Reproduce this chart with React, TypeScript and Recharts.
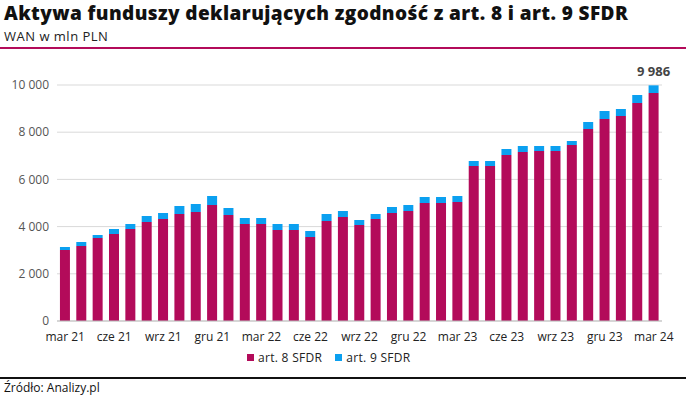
import { BarChart, Bar, XAxis, YAxis, CartesianGrid, LabelList } from "recharts";

const MONTHS = [
  "mar 21", "kwi 21", "maj 21", "cze 21", "lip 21", "sie 21", "wrz 21", "paź 21", "lis 21", "gru 21",
  "sty 22", "lut 22", "mar 22", "kwi 22", "maj 22", "cze 22", "lip 22", "sie 22", "wrz 22", "paź 22", "lis 22", "gru 22",
  "sty 23", "lut 23", "mar 23", "kwi 23", "maj 23", "cze 23", "lip 23", "sie 23", "wrz 23", "paź 23", "lis 23", "gru 23",
  "sty 24", "lut 24", "mar 24",
];

const ART8 = [
  3008, 3178, 3517, 3686, 3898, 4195, 4322, 4534, 4619, 4915,
  4492, 4110, 4110, 3856, 3856, 3559, 4237, 4407, 4068, 4322, 4576, 4661,
  5000, 5000, 5042, 6568, 6568, 7034, 7161, 7203, 7203, 7458, 8136, 8559,
  8686, 9237, 9661,
];

const ART9 = [
  128, 169, 127, 212, 212, 254, 254, 339, 339, 382,
  296, 254, 254, 254, 254, 255, 297, 254, 212, 212, 255, 254,
  254, 254, 255, 212, 212, 254, 254, 212, 212, 169, 296, 339,
  297, 339, 325,
];

const Y_TICKS = [0, 2000, 4000, 6000, 8000, 10000];

const C8 = "#b30b5a";
const C9 = "#0ba0f0";
const FONT = "'Open Sans', Lato, sans-serif";

const data = MONTHS.map((m, i) => ({ month: m, art8: ART8[i], art9: ART9[i], total: ART8[i] + ART9[i] }));

const fmt = (v: number) => v.toLocaleString("en-US").replace(/,/g, " ");

// only the last bar carries its total
const LastLabel = (props: any) => {
  const { x, y, width, index } = props;
  if (index !== data.length - 1) return null;
  return (
    <text x={x + width / 2} y={y - 9} textAnchor="middle" fontSize={13} fontWeight={700} fill="#444" fontFamily={FONT}>
      {fmt(data[index].total)}
    </text>
  );
};

export default function App() {
  return (
    <div style={{ position: "absolute", left: 0, top: 0, width: 686, height: 396, background: "#fff", fontFamily: FONT, overflow: "hidden" }}>
      <div style={{ position: "absolute", left: 4, top: 0, fontSize: 19, fontWeight: 800, letterSpacing: 0.4, color: "#111", whiteSpace: "nowrap" }}>
        Aktywa funduszy deklarujących zgodność z art. 8 i art. 9 SFDR
      </div>
      <div style={{ position: "absolute", left: 4, top: 27, fontSize: 13, letterSpacing: 0.5, color: "#222" }}>WAN w mln PLN</div>
      <div style={{ position: "absolute", left: 0, top: 47, width: 686, height: 2, background: C8 }} />

      <div style={{ position: "absolute", left: 0, top: 0 }}>
        <BarChart width={686} height={396} data={data} margin={{ top: 85, right: 24, left: 7, bottom: 45 }} barCategoryGap="18%">
          <CartesianGrid vertical={false} stroke="#d9d9d9" />
          <XAxis
            dataKey="month"
            interval={2}
            tickLine={false}
            axisLine={{ stroke: "#bfbfbf" }}
            height={30}
            dy={3}
            tick={{ fontSize: 12, fill: "#222", fontFamily: FONT }}
          />
          <YAxis
            width={50}
            domain={[0, 10000]}
            ticks={Y_TICKS}
            axisLine={false}
            tickLine={false}
            tickFormatter={fmt}
            tick={{ fontSize: 12, fill: "#555", fontFamily: FONT }}
          />
          <Bar dataKey="art8" stackId="a" fill={C8} isAnimationActive={false} />
          <Bar dataKey="art9" stackId="a" fill={C9} isAnimationActive={false}>
            <LabelList dataKey="total" content={LastLabel} />
          </Bar>
        </BarChart>
      </div>

      <div style={{ position: "absolute", left: 247, top: 349, display: "flex", gap: 13, fontSize: 12, letterSpacing: 0.3, color: "#222" }}>
        <span style={{ display: "flex", alignItems: "center" }}>
          <span style={{ width: 7, height: 7, background: C8, marginRight: 4 }} />
          art. 8 SFDR
        </span>
        <span style={{ display: "flex", alignItems: "center" }}>
          <span style={{ width: 7, height: 7, background: C9, marginRight: 4 }} />
          art. 9 SFDR
        </span>
      </div>

      <div style={{ position: "absolute", left: 0, top: 377, width: 686, height: 1.5, background: "#111" }} />
      <div style={{ position: "absolute", left: 4, top: 379, fontSize: 12, color: "#111" }}>Źródło: Analizy.pl</div>
    </div>
  );
}
